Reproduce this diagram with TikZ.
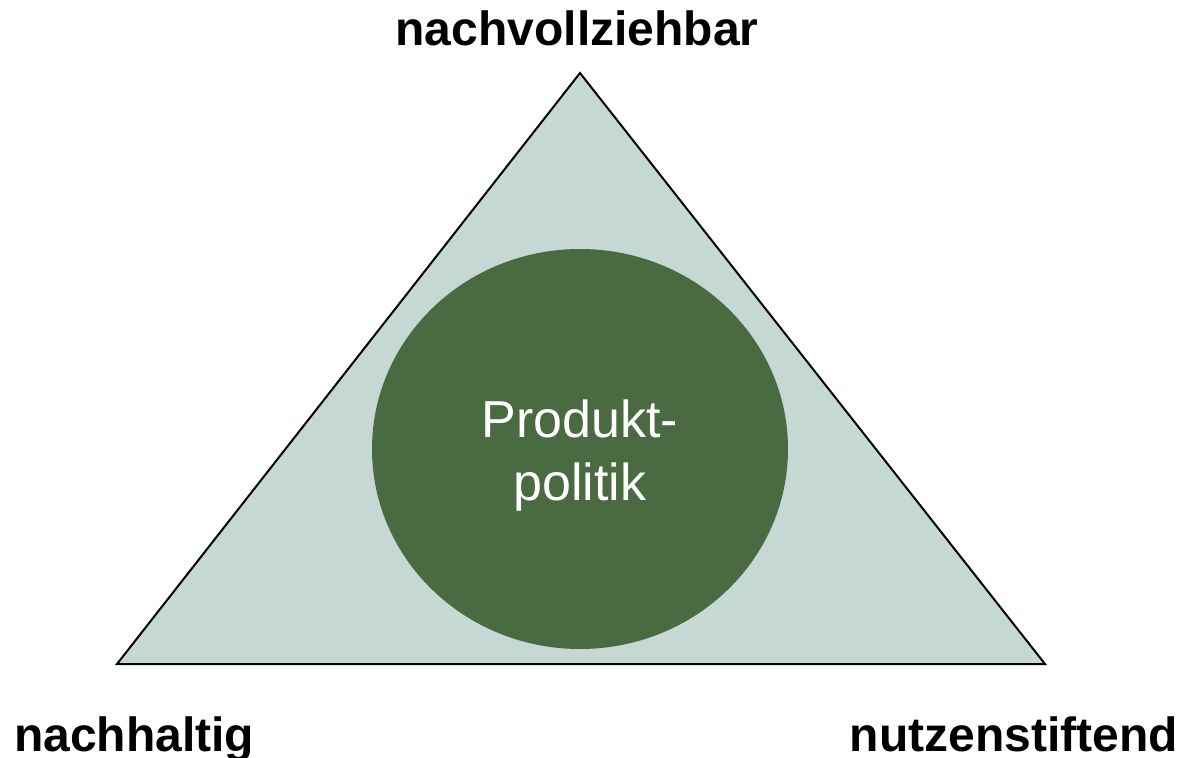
\documentclass[tikz,border=0pt]{standalone}
\usepackage{fontspec}
\setmainfont{Liberation Sans}
\definecolor{triFill}{HTML}{C5D8D4}
\definecolor{coreFill}{HTML}{4A6B42}
\begin{document}
\begin{tikzpicture}[x=1pt,y=-1pt,
  corner/.style={font=\fontsize{48}{56}\selectfont\bfseries, anchor=base, inner sep=0pt},
  coretext/.style={font=\fontsize{52}{63}\selectfont, text=white, align=center}]
\useasboundingbox (0,0) rectangle (1187,758);
% triangle corners
\coordinate (top) at (580,73);
\coordinate (bl) at (117,664);
\coordinate (br) at (1045,664);
\filldraw[fill=triFill, draw=black, line width=2pt, line join=miter] (top) -- (br) -- (bl) -- cycle;
% central ellipse
\fill[coreFill] (580,449) ellipse [x radius=208, y radius=200];
\node[coretext] (core) at (580,456) {Produkt-\\politik};
% corner labels
\node[corner] (lbtop) at (577,45) {nachvollziehbar};
\node[corner, anchor=base west] (lbleft) at (14,751) {nachhaltig};
\node[corner, anchor=base east] (lbright) at (1178,751) {nutzenstiftend};
\end{tikzpicture}
\end{document}
